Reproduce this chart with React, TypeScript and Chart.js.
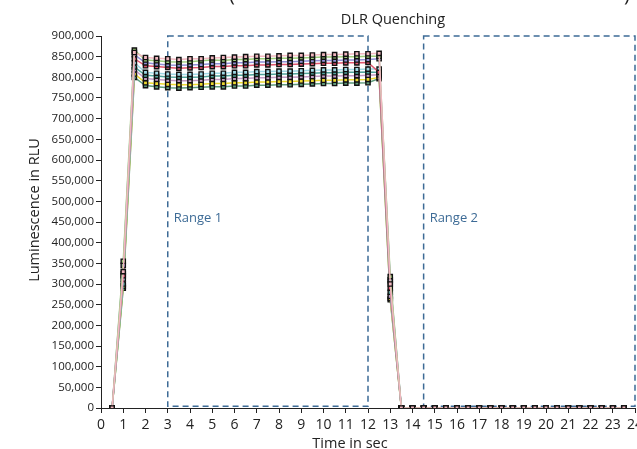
import { useEffect, useRef } from "react";
import { Chart, registerables } from "chart.js";
Chart.register(...registerables);

const TIMES = [0.5, 1, 1.5, 2, 2.5, 3, 3.5, 4, 4.5, 5, 5.5, 6, 6.5, 7, 7.5, 8, 8.5, 9, 9.5, 10, 10.5, 11, 11.5, 12, 12.5, 13, 13.5,
  14, 14.5, 15, 15.5, 16, 16.5, 17, 17.5, 18, 18.5, 19, 19.5, 20, 20.5, 21, 21.5, 22, 22.5, 23, 23.5];

// values in thousands of RLU
const PINK = [0, 330, 860, 848, 846, 845, 843, 845, 845, 847, 848, 849, 850, 851, 851, 852, 853, 853, 854, 855, 855, 856, 857, 857, 858, 300, 0,
  0, 0, 0, 0, 0, 0, 0, 0, 0, 0, 0, 0, 0, 0, 0, 0, 0, 0, 0, 0];
const GREEN = [0, 355, 866, 842, 840, 838, 837, 838, 840, 842, 841, 843, 843, 845, 845, 846, 846, 847, 848, 849, 849, 850, 850, 851, 851, 318, 0,
  0, 0, 0, 0, 0, 0, 0, 0, 0, 0, 0, 0, 0, 0, 0, 0, 0, 0, 0, 0];
const LAVENDER = [0, 345, 855, 835, 832, 830, 829, 830, 831, 833, 833, 835, 835, 837, 837, 838, 838, 839, 840, 841, 841, 842, 842, 843, 845, 310, 0,
  0, 0, 0, 0, 0, 0, 0, 0, 0, 0, 0, 0, 0, 0, 0, 0, 0, 0, 0, 0];
const RED = [0, 320, 845, 828, 826, 824, 822, 823, 824, 826, 826, 828, 828, 830, 830, 831, 831, 832, 833, 834, 834, 835, 835, 836, 812, 290, 0,
  0, 0, 0, 0, 0, 0, 0, 0, 0, 0, 0, 0, 0, 0, 0, 0, 0, 0, 0, 0];
const CYAN = [0, 312, 835, 812, 810, 808, 807, 807, 808, 810, 810, 812, 812, 814, 814, 815, 815, 816, 817, 818, 818, 819, 819, 820, 820, 305, 0,
  0, 0, 0, 0, 0, 0, 0, 0, 0, 0, 0, 0, 0, 0, 0, 0, 0, 0, 0, 0];
const TEAL = [0, 300, 825, 805, 803, 801, 800, 800, 801, 803, 803, 805, 805, 807, 807, 808, 808, 809, 810, 811, 811, 812, 812, 813, 812, 280, 0,
  0, 0, 0, 0, 0, 0, 0, 0, 0, 0, 0, 0, 0, 0, 0, 0, 0, 0, 0, 0];
const MAUVE = [0, 325, 818, 797, 795, 793, 792, 792, 793, 795, 795, 797, 797, 799, 799, 800, 800, 801, 802, 803, 803, 804, 804, 805, 806, 270, 0,
  0, 0, 0, 0, 0, 0, 0, 0, 0, 0, 0, 0, 0, 0, 0, 0, 0, 0, 0, 0];
const YELLOW = [0, 295, 808, 787, 785, 783, 782, 782, 783, 785, 785, 787, 787, 789, 789, 790, 790, 791, 792, 793, 793, 794, 794, 795, 800, 265, 0,
  0, 0, 0, 0, 0, 0, 0, 0, 0, 0, 0, 0, 0, 0, 0, 0, 0, 0, 0, 0];
const DARKGREEN = [0, 290, 800, 780, 777, 775, 774, 775, 776, 777, 777, 779, 779, 781, 781, 782, 782, 783, 784, 785, 785, 786, 786, 787, 797, 262, 0,
  0, 0, 0, 0, 0, 0, 0, 0, 0, 0, 0, 0, 0, 0, 0, 0, 0, 0, 0, 0];

const SERIES = [PINK, GREEN, LAVENDER, RED, CYAN, TEAL, MAUVE, YELLOW, DARKGREEN];
const SERIES_NAMES = ["Well 1", "Well 2", "Well 3", "Well 4", "Well 5", "Well 6", "Well 7", "Well 8", "Well 9"];
const SERIES_COLORS = ["#f2b8c0", "#9ccc7a", "#8f8fd6", "#e0566e", "#9fd8e6", "#4fa39a", "#c49ac4", "#ecd830", "#5e9a7c"];

const Y_MIN = 0;
const Y_MAX = 900000;
const Y_STEP = 50000;
const X_MIN = 0;
const X_MAX = 24;
const X_STEP = 1;

const RANGE_LABELS = ["Range 1", "Range 2"];
const RANGE_FROM = [3, 14.5];
const RANGE_TO = [12, 24];
const RANGE_BOTTOM = 4000;
const RANGE_TOP = 900000;
const RANGE_LABEL_Y = 460000;

const TITLE = "DLR Quenching";
const X_TITLE = "Time in sec";
const Y_TITLE = "Luminescence in RLU";

const FONT = "'Open Sans', 'Noto Sans', sans-serif";
const BLUE = "#3d6b96";

const overlay = {
  id: "overlay",
  beforeDatasetsDraw(chart: any) {
    const { ctx, scales } = chart;
    const xs = scales.x, ys = scales.y;
    ctx.save();
    ctx.strokeStyle = BLUE;
    ctx.lineWidth = 1.5;
    ctx.setLineDash([6, 4]);
    for (let i = 0; i < RANGE_LABELS.length; i++) {
      const x1 = xs.getPixelForValue(RANGE_FROM[i]);
      const x2 = xs.getPixelForValue(RANGE_TO[i]);
      const y1 = ys.getPixelForValue(RANGE_TOP);
      const y2 = ys.getPixelForValue(RANGE_BOTTOM);
      ctx.strokeRect(x1, y1, x2 - x1, y2 - y1);
    }
    ctx.setLineDash([]);
    ctx.fillStyle = BLUE;
    ctx.font = `13px ${FONT}`;
    ctx.textBaseline = "middle";
    ctx.textAlign = "left";
    for (let i = 0; i < RANGE_LABELS.length; i++) {
      const x1 = xs.getPixelForValue(RANGE_FROM[i]);
      ctx.fillText(RANGE_LABELS[i], x1 + 6, ys.getPixelForValue(RANGE_LABEL_Y));
    }
    ctx.restore();
  },
  afterDraw(chart: any) {
    const { ctx } = chart;
    ctx.save();
    ctx.fillStyle = "#222";
    ctx.textAlign = "center";
    ctx.textBaseline = "middle";
    ctx.font = `14.5px ${FONT}`;
    ctx.fillText(TITLE, 393, 20);
    ctx.fillText(X_TITLE, 350, 444);
    ctx.save();
    ctx.translate(35, 210);
    ctx.rotate(-Math.PI / 2);
    ctx.fillText(Y_TITLE, 0, 0);
    ctx.restore();
    ctx.font = `20px ${FONT}`;
    ctx.textBaseline = "alphabetic";
    ctx.fillText("(", 232, 1);
    ctx.fillText(")", 627, 1);
    ctx.restore();
  },
};

export default function App() {
  const ref = useRef<HTMLCanvasElement>(null);
  useEffect(() => {
    if (!ref.current) return;
    const chart = new Chart(ref.current, {
      type: "line",
      data: {
        datasets: SERIES.map((s, i) => ({
          label: SERIES_NAMES[i],
          data: s.map((v, j) => ({ x: TIMES[j], y: v * 1000 })),
          borderColor: SERIES_COLORS[i],
          backgroundColor: SERIES_COLORS[i],
          borderWidth: 1.5,
          pointStyle: "rect",
          pointRadius: 3,
          pointBorderColor: "#111",
          pointBackgroundColor: SERIES_COLORS[i],
          pointBorderWidth: 1.4,
          tension: 0,
          fill: false,
        })),
      },
      options: {
        animation: false,
        responsive: false,
        devicePixelRatio: 1,
        layout: { autoPadding: false, padding: { left: 0, right: 2, top: 36, bottom: 0 } },
        plugins: { legend: { display: false }, tooltip: { enabled: false }, title: { display: false } },
        scales: {
          x: {
            type: "linear",
            min: X_MIN,
            max: X_MAX,
            ticks: { stepSize: X_STEP, color: "#222", font: { family: FONT, size: 14 }, padding: 4, maxRotation: 0, autoSkip: false },
            grid: { drawOnChartArea: false, tickLength: 5, color: "#222" },
            border: { color: "#222", width: 1 },
            afterFit: (s: any) => { s.height = 41; s.paddingLeft = 0; s.paddingRight = 0; },
          },
          y: {
            min: Y_MIN,
            max: Y_MAX,
            ticks: {
              stepSize: Y_STEP,
              color: "#222",
              font: { family: FONT, size: 11.5 },
              padding: 2,
              autoSkip: false,
              callback: (v: any) => Number(v).toLocaleString("en-US"),
            },
            grid: { drawOnChartArea: false, tickLength: 5, color: "#222" },
            border: { color: "#222", width: 1 },
            afterFit: (s: any) => { s.width = 101; s.paddingTop = 0; s.paddingBottom = 0; },
          },
        },
      },
      plugins: [overlay],
    });
    return () => chart.destroy();
  }, []);
  return (
    <div style={{ position: "fixed", left: 0, top: 0, width: 637, height: 449, background: "#fff" }}>
      <canvas ref={ref} width={637} height={449} />
    </div>
  );
}
